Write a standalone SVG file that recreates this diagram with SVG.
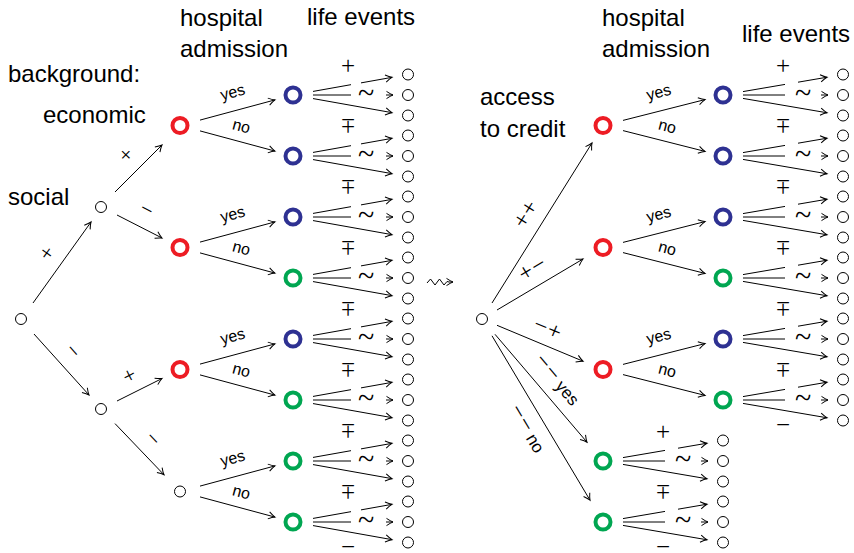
<svg xmlns="http://www.w3.org/2000/svg" width="854" height="553" viewBox="0 0 854 553">
<style>
text{font-family:"Liberation Sans",Arial,sans-serif;fill:#000}
.h{font-size:24px}
.e{font-size:16px}
.s{font-size:22px;font-family:"Liberation Serif","Times New Roman",serif}
.m{font-size:25px;font-family:"Liberation Serif","Times New Roman",serif}
.t{font-size:30px;font-family:"Liberation Serif","Times New Roman",serif}
.r{font-size:24px;font-family:"Liberation Serif","Times New Roman",serif}
.ln{stroke:#000;stroke-width:1;fill:none}
.arr{marker-end:url(#ah)}
.pl{fill:#fff;stroke:#000;stroke-width:1}
.cn{fill:#fff;stroke-width:4}
.red{stroke:#ed1c24}
.blue{stroke:#2e3192}
.green{stroke:#00a651}
</style>
<defs>
<marker id="ah" markerUnits="userSpaceOnUse" markerWidth="12" markerHeight="12" viewBox="-9 -6 12 12" refX="0" refY="0" orient="auto" overflow="visible">
<path d="M-6.5,-3.6 Q-2.5,-0.9 0,0 Q-2.5,0.9 -6.5,3.6" fill="none" stroke="#000" stroke-width="1"/>
</marker>
<g id="fan115">
<path class="ln" d="M20,-3.57 L58,-10.34"/>
<path class="ln arr" d="M68,-12.12 L99,-17.65"/>
<path class="ln" d="M20,0 L58,0"/>
<path class="ln arr" d="M93,0 L100,0"/>
<path class="ln arr" d="M20,3.57 L99,17.65"/>
<text class="m" x="55" y="-20.7" text-anchor="middle">+</text>
<text class="t" x="73" y="8" text-anchor="middle">~</text>
<text class="m" x="55" y="33.3" text-anchor="middle">−</text>
</g>
<g id="fan120">
<path class="ln" d="M20,-3.42 L62,-10.59"/>
<path class="ln arr" d="M75,-12.81 L104,-17.77"/>
<path class="ln" d="M20,0 L62,0"/>
<path class="ln arr" d="M98,0 L105,0"/>
<path class="ln arr" d="M20,3.42 L104,17.77"/>
<text class="m" x="60" y="-20.7" text-anchor="middle">+</text>
<text class="t" x="80" y="8" text-anchor="middle">~</text>
<text class="m" x="60" y="33.3" text-anchor="middle">−</text>
</g>
</defs>
<rect width="854" height="553" fill="#fff"/>

<g id="headings">
<text class="h" x="180" y="26">hospital</text>
<text class="h" x="180" y="57">admission</text>
<text class="h" x="307" y="25">life events</text>
<text class="h" x="8" y="82">background:</text>
<text class="h" x="43" y="123">economic</text>
<text class="h" x="8" y="205">social</text>
<text class="h" x="480" y="105">access</text>
<text class="h" x="480" y="137">to credit</text>
<text class="h" x="602" y="26">hospital</text>
<text class="h" x="602" y="57">admission</text>
<text class="h" x="742" y="42">life events</text>
</g>

<g id="connectors">
<!-- left tree -->
<path class="ln arr" d="M33,303 L91,222"/>
<path class="ln arr" d="M34,334 L89,395"/>
<path class="ln arr" d="M115,192 L162,145"/>
<path class="ln arr" d="M117,215 L162,238"/>
<path class="ln arr" d="M117,401 L162,378.5"/>
<path class="ln arr" d="M115,423.6 L164,474.8"/>
<g transform="translate(48,254) rotate(-54.5)"><text class="s" y="5.5" text-anchor="middle">+</text></g>
<g transform="translate(72,352) rotate(48)"><text class="s" y="5.5" text-anchor="middle">−</text></g>
<g transform="translate(127,156) rotate(-46)"><text class="s" y="5.5" text-anchor="middle">+</text></g>
<g transform="translate(146,211) rotate(27)"><text class="s" y="5.5" text-anchor="middle">−</text></g>
<g transform="translate(130,377) rotate(-27)"><text class="s" y="5.5" text-anchor="middle">+</text></g>
<g transform="translate(152,440) rotate(46)"><text class="s" y="5.5" text-anchor="middle">−</text></g>

<path class="ln arr" d="M200,120.1 L275,99.9"/>
<path class="ln arr" d="M200,130.9 L275,151.1"/>
<path class="ln arr" d="M200,242.1 L275,221.9"/>
<path class="ln arr" d="M200,252.9 L275,273.1"/>
<path class="ln arr" d="M200,364.1 L275,343.9"/>
<path class="ln arr" d="M200,374.9 L275,395.1"/>
<path class="ln arr" d="M200,486.1 L275,465.9"/>
<path class="ln arr" d="M200,496.9 L275,517.1"/>
<g transform="translate(233,93.5) rotate(-15)"><text class="e" y="4" text-anchor="middle">yes</text></g>
<g transform="translate(241,127.5) rotate(15)"><text class="e" y="4" text-anchor="middle">no</text></g>
<g transform="translate(233,215.5) rotate(-15)"><text class="e" y="4" text-anchor="middle">yes</text></g>
<g transform="translate(241,249.5) rotate(15)"><text class="e" y="4" text-anchor="middle">no</text></g>
<g transform="translate(233,337.5) rotate(-15)"><text class="e" y="4" text-anchor="middle">yes</text></g>
<g transform="translate(241,371.5) rotate(15)"><text class="e" y="4" text-anchor="middle">no</text></g>
<g transform="translate(233,459.5) rotate(-15)"><text class="e" y="4" text-anchor="middle">yes</text></g>
<g transform="translate(241,493.5) rotate(15)"><text class="e" y="4" text-anchor="middle">no</text></g>

<use href="#fan115" transform="translate(293,95)"/>
<use href="#fan115" transform="translate(293,156)"/>
<use href="#fan115" transform="translate(293,217)"/>
<use href="#fan115" transform="translate(293,278)"/>
<use href="#fan115" transform="translate(293,339)"/>
<use href="#fan115" transform="translate(293,400)"/>
<use href="#fan115" transform="translate(293,461)"/>
<use href="#fan115" transform="translate(293,522)"/>

<!-- leadsto -->
<path class="ln arr" stroke-width="1.2" d="M427,283 L430.5,279 L435,285 L439.5,279 L444,285 L447,281.5 L449,282 L453,282"/>

<!-- right tree -->
<path class="ln arr" d="M492,303 L592,143"/>
<path class="ln arr" d="M497,310 L583,259"/>
<path class="ln arr" d="M497,325.3 L583,361.2"/>
<path class="ln arr" d="M495,334.3 L587,442.2"/>
<path class="ln arr" d="M492,335.8 L590,500.2"/>
<g transform="translate(527,215) rotate(-58)"><text class="r" y="6" text-anchor="middle">+<tspan dx="1">+</tspan></text></g>
<g transform="translate(533,270) rotate(-31)"><text class="r" y="6" text-anchor="middle">+<tspan dx="1">−</tspan></text></g>
<g transform="translate(547,330) rotate(22)"><text class="r" y="6" text-anchor="middle">−<tspan dx="1">+</tspan></text></g>
<g transform="translate(557,380) rotate(50)"><text class="r" y="6" text-anchor="middle">−<tspan dx="1">−</tspan><tspan dx="5" style="font-size:17px;font-family:'Liberation Sans',Arial,sans-serif">yes</tspan></text></g>
<g transform="translate(527,429) rotate(59)"><text class="r" y="6" text-anchor="middle">−<tspan dx="1">−</tspan><tspan dx="5" style="font-size:17px;font-family:'Liberation Sans',Arial,sans-serif">no</tspan></text></g>

<path class="ln arr" d="M623,120.4 L705,99.6"/>
<path class="ln arr" d="M623,130.6 L705,151.4"/>
<path class="ln arr" d="M623,242.4 L705,221.6"/>
<path class="ln arr" d="M623,252.6 L705,273.4"/>
<path class="ln arr" d="M623,364.4 L705,343.6"/>
<path class="ln arr" d="M623,374.6 L705,395.4"/>
<g transform="translate(659,93.5) rotate(-14.3)"><text class="e" y="4" text-anchor="middle">yes</text></g>
<g transform="translate(667,127.5) rotate(14.3)"><text class="e" y="4" text-anchor="middle">no</text></g>
<g transform="translate(659,215.5) rotate(-14.3)"><text class="e" y="4" text-anchor="middle">yes</text></g>
<g transform="translate(667,249.5) rotate(14.3)"><text class="e" y="4" text-anchor="middle">no</text></g>
<g transform="translate(659,337.5) rotate(-14.3)"><text class="e" y="4" text-anchor="middle">yes</text></g>
<g transform="translate(667,371.5) rotate(14.3)"><text class="e" y="4" text-anchor="middle">no</text></g>

<use href="#fan120" transform="translate(723,95)"/>
<use href="#fan120" transform="translate(723,156)"/>
<use href="#fan120" transform="translate(723,217)"/>
<use href="#fan120" transform="translate(723,278)"/>
<use href="#fan120" transform="translate(723,339)"/>
<use href="#fan120" transform="translate(723,400)"/>
<use href="#fan120" transform="translate(603,461)"/>
<use href="#fan120" transform="translate(603,522)"/>
</g>

<!-- left tree nodes -->
<g id="L-root"><circle class="pl" cx="21" cy="319" r="5.5"/></g>
<g id="L-social-plus"><circle class="pl" cx="101" cy="207" r="5.5"/></g>
<g id="L-social-minus"><circle class="pl" cx="101" cy="409" r="5.5"/></g>
<g id="L-econ-1"><circle class="cn red" cx="180" cy="125.5" r="7.5"/></g>
<g id="L-econ-2"><circle class="cn red" cx="180" cy="247.5" r="7.5"/></g>
<g id="L-econ-3"><circle class="cn red" cx="180" cy="369.5" r="7.5"/></g>
<g id="L-econ-4"><circle class="pl" cx="180" cy="491.5" r="5.5"/></g>
<g id="L-hosp-1"><circle class="cn blue" cx="293" cy="95" r="7.5"/></g>
<g id="L-hosp-2"><circle class="cn blue" cx="293" cy="156" r="7.5"/></g>
<g id="L-hosp-3"><circle class="cn blue" cx="293" cy="217" r="7.5"/></g>
<g id="L-hosp-4"><circle class="cn green" cx="293" cy="278" r="7.5"/></g>
<g id="L-hosp-5"><circle class="cn blue" cx="293" cy="339" r="7.5"/></g>
<g id="L-hosp-6"><circle class="cn green" cx="293" cy="400" r="7.5"/></g>
<g id="L-hosp-7"><circle class="cn green" cx="293" cy="461" r="7.5"/></g>
<g id="L-hosp-8"><circle class="cn green" cx="293" cy="522" r="7.5"/></g>
<g id="L-leaves">
<g id="L-leaf-1"><circle class="pl" cx="408" cy="74.5" r="5.5"/></g>
<g id="L-leaf-2"><circle class="pl" cx="408" cy="95" r="5.5"/></g>
<g id="L-leaf-3"><circle class="pl" cx="408" cy="115.5" r="5.5"/></g>
<g id="L-leaf-4"><circle class="pl" cx="408" cy="135.5" r="5.5"/></g>
<g id="L-leaf-5"><circle class="pl" cx="408" cy="156" r="5.5"/></g>
<g id="L-leaf-6"><circle class="pl" cx="408" cy="176.5" r="5.5"/></g>
<g id="L-leaf-7"><circle class="pl" cx="408" cy="196.5" r="5.5"/></g>
<g id="L-leaf-8"><circle class="pl" cx="408" cy="217" r="5.5"/></g>
<g id="L-leaf-9"><circle class="pl" cx="408" cy="237.5" r="5.5"/></g>
<g id="L-leaf-10"><circle class="pl" cx="408" cy="257.5" r="5.5"/></g>
<g id="L-leaf-11"><circle class="pl" cx="408" cy="278" r="5.5"/></g>
<g id="L-leaf-12"><circle class="pl" cx="408" cy="298.5" r="5.5"/></g>
<g id="L-leaf-13"><circle class="pl" cx="408" cy="318.5" r="5.5"/></g>
<g id="L-leaf-14"><circle class="pl" cx="408" cy="339" r="5.5"/></g>
<g id="L-leaf-15"><circle class="pl" cx="408" cy="359.5" r="5.5"/></g>
<g id="L-leaf-16"><circle class="pl" cx="408" cy="379.5" r="5.5"/></g>
<g id="L-leaf-17"><circle class="pl" cx="408" cy="400" r="5.5"/></g>
<g id="L-leaf-18"><circle class="pl" cx="408" cy="420.5" r="5.5"/></g>
<g id="L-leaf-19"><circle class="pl" cx="408" cy="440.5" r="5.5"/></g>
<g id="L-leaf-20"><circle class="pl" cx="408" cy="461" r="5.5"/></g>
<g id="L-leaf-21"><circle class="pl" cx="408" cy="481.5" r="5.5"/></g>
<g id="L-leaf-22"><circle class="pl" cx="408" cy="501.5" r="5.5"/></g>
<g id="L-leaf-23"><circle class="pl" cx="408" cy="522" r="5.5"/></g>
<g id="L-leaf-24"><circle class="pl" cx="408" cy="542.5" r="5.5"/></g>
</g>

<!-- right tree nodes -->
<g id="R-root"><circle class="pl" cx="482" cy="319" r="5.5"/></g>
<g id="R-credit-1"><circle class="cn red" cx="603" cy="125.5" r="7.5"/></g>
<g id="R-credit-2"><circle class="cn red" cx="603" cy="247.5" r="7.5"/></g>
<g id="R-credit-3"><circle class="cn red" cx="603" cy="369.5" r="7.5"/></g>
<g id="R-credit-4"><circle class="cn green" cx="603" cy="461" r="7.5"/></g>
<g id="R-credit-5"><circle class="cn green" cx="603" cy="522" r="7.5"/></g>
<g id="R-hosp-1"><circle class="cn blue" cx="723" cy="95" r="7.5"/></g>
<g id="R-hosp-2"><circle class="cn blue" cx="723" cy="156" r="7.5"/></g>
<g id="R-hosp-3"><circle class="cn blue" cx="723" cy="217" r="7.5"/></g>
<g id="R-hosp-4"><circle class="cn green" cx="723" cy="278" r="7.5"/></g>
<g id="R-hosp-5"><circle class="cn blue" cx="723" cy="339" r="7.5"/></g>
<g id="R-hosp-6"><circle class="cn green" cx="723" cy="400" r="7.5"/></g>
<g id="R-leaves">
<g id="R-leaf-1"><circle class="pl" cx="843" cy="74.5" r="5.5"/></g>
<g id="R-leaf-2"><circle class="pl" cx="843" cy="95" r="5.5"/></g>
<g id="R-leaf-3"><circle class="pl" cx="843" cy="115.5" r="5.5"/></g>
<g id="R-leaf-4"><circle class="pl" cx="843" cy="135.5" r="5.5"/></g>
<g id="R-leaf-5"><circle class="pl" cx="843" cy="156" r="5.5"/></g>
<g id="R-leaf-6"><circle class="pl" cx="843" cy="176.5" r="5.5"/></g>
<g id="R-leaf-7"><circle class="pl" cx="843" cy="196.5" r="5.5"/></g>
<g id="R-leaf-8"><circle class="pl" cx="843" cy="217" r="5.5"/></g>
<g id="R-leaf-9"><circle class="pl" cx="843" cy="237.5" r="5.5"/></g>
<g id="R-leaf-10"><circle class="pl" cx="843" cy="257.5" r="5.5"/></g>
<g id="R-leaf-11"><circle class="pl" cx="843" cy="278" r="5.5"/></g>
<g id="R-leaf-12"><circle class="pl" cx="843" cy="298.5" r="5.5"/></g>
<g id="R-leaf-13"><circle class="pl" cx="843" cy="318.5" r="5.5"/></g>
<g id="R-leaf-14"><circle class="pl" cx="843" cy="339" r="5.5"/></g>
<g id="R-leaf-15"><circle class="pl" cx="843" cy="359.5" r="5.5"/></g>
<g id="R-leaf-16"><circle class="pl" cx="843" cy="379.5" r="5.5"/></g>
<g id="R-leaf-17"><circle class="pl" cx="843" cy="400" r="5.5"/></g>
<g id="R-leaf-18"><circle class="pl" cx="843" cy="420.5" r="5.5"/></g>
<g id="R-leaf-19"><circle class="pl" cx="723" cy="440.5" r="5.5"/></g>
<g id="R-leaf-20"><circle class="pl" cx="723" cy="461" r="5.5"/></g>
<g id="R-leaf-21"><circle class="pl" cx="723" cy="481.5" r="5.5"/></g>
<g id="R-leaf-22"><circle class="pl" cx="723" cy="501.5" r="5.5"/></g>
<g id="R-leaf-23"><circle class="pl" cx="723" cy="522" r="5.5"/></g>
<g id="R-leaf-24"><circle class="pl" cx="723" cy="542.5" r="5.5"/></g>
</g>
</svg>
